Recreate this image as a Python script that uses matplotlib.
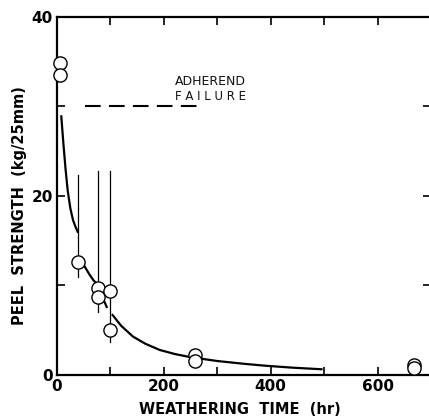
import numpy as np
import matplotlib.pyplot as plt

# open circles (weathering time hr, peel strength kg/25mm)
t_pts = [5, 5, 40, 77, 77, 99, 99, 258, 258, 669, 669]
p_pts = [34.9, 33.5, 12.6, 9.7, 8.7, 9.4, 5.0, 2.2, 1.6, 1.15, 0.8]

# vertical scatter lines: x, top, bottom
bar_t = [40, 77, 99]
bar_top = [22.3, 22.8, 22.8]
bar_bot = [11.0, 7.0, 3.7]

curve_a_t = [8, 12, 16, 20, 25, 30, 35, 38.7]
curve_a_p = [28.9, 25.8, 23.0, 20.6, 18.6, 17.3, 16.5, 16.0]
curve_b_t = [52, 60, 68, 77, 85, 93]
curve_b_p = [12.1, 11.3, 10.6, 10.0, 8.7, 7.6]
curve_c_t = [104, 120, 142, 165, 192, 220, 249, 300, 350, 389, 440, 495]
curve_c_p = [6.7, 5.5, 4.3, 3.5, 2.8, 2.35, 2.0, 1.56, 1.25, 1.04, 0.82, 0.64]

fail_level = 30
fail_t = [52, 275]

fig = plt.figure(figsize=(4.29, 4.18), dpi=100)
ax = fig.add_axes([0.1329, 0.1029, 0.8718, 0.8565])

for t, hi, lo in zip(bar_t, bar_top, bar_bot):
    ax.plot([t, t], [lo, hi], color='black', lw=0.9, zorder=2)

ax.plot(curve_a_t, curve_a_p, color='black', lw=1.6, zorder=2)
ax.plot(curve_b_t, curve_b_p, color='black', lw=1.6, zorder=2)
ax.plot(curve_c_t, curve_c_p, color='black', lw=1.6, zorder=2)

ax.plot(t_pts, p_pts, 'o', ms=9.5, mfc='white', mec='black', mew=1.0,
        zorder=3, clip_on=False)

ax.plot(fail_t, [fail_level, fail_level], color='black', lw=1.5,
        dashes=(7.5, 4))
ax.text(220, 32.8, 'ADHEREND', fontsize=9, ha='left', va='center',
        color='#111111')
ax.text(220, 31.1, 'F A I L U R E', fontsize=8.5, ha='left', va='center',
        color='#111111')

ax.set_xlim(0, 700)
ax.set_ylim(0, 40)
ax.set_xticks([0, 200, 400, 600])
ax.set_xticks([100, 300, 500], minor=True)
ax.set_yticks([0, 20, 40])
ax.set_yticks([10, 30], minor=True)
ax.tick_params(which='both', direction='in', top=True, right=True,
               length=6, width=1.2, labelsize=11, pad=3)
for lab in ax.get_xticklabels() + ax.get_yticklabels():
    lab.set_fontweight('bold')
for s in ax.spines.values():
    s.set_linewidth(1.6)

ax.set_xlabel('WEATHERING  TIME  (hr)', fontsize=10.5, fontweight='bold')
ax.set_ylabel('PEEL  STRENGTH  (kg/25mm)', fontsize=10.5, fontweight='bold')
ax.xaxis.set_label_coords(0.489, -0.097)
ax.yaxis.set_label_coords(-0.099, 0.472)
ax.xaxis.label.set_va('center')
ax.yaxis.label.set_va('center')

fig.savefig('out.png', dpi=100)
